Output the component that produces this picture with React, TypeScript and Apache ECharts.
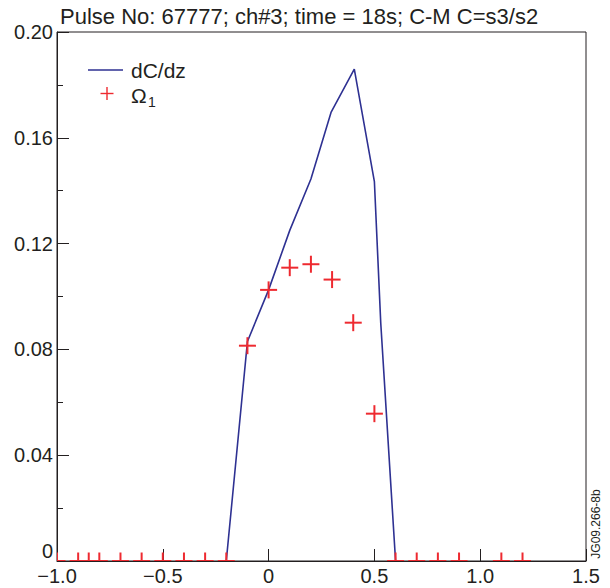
import React, { useEffect, useRef } from 'react';
import * as echarts from 'echarts';

// dC/dz curve
const lineX = [-0.2, -0.1, 0, 0.1, 0.2, 0.295, 0.405, 0.5, 0.53, 0.6];
const lineY = [0, 0.083, 0.1025, 0.125, 0.1444, 0.1696, 0.186, 0.1434, 0.09, 0];

// Omega_1 points
const omegaX = [-1.0, -0.9, -0.85, -0.8, -0.7, -0.6, -0.5, -0.4, -0.3, -0.2, -0.1, 0, 0.1, 0.2, 0.3, 0.4, 0.5, 0.6, 0.7, 0.8, 0.9, 1.1, 1.2];
const omegaY = [0, 0, 0, 0, 0, 0, 0, 0, 0, 0, 0.0814, 0.1025, 0.1109, 0.1122, 0.1064, 0.0901, 0.0557, 0, 0, 0, 0, 0, 0];

const xTicks = [-1.0, -0.5, 0, 0.5, 1.0, 1.5];
const yTicks = [0, 0.04, 0.08, 0.12, 0.16, 0.2];

const titleText = 'Pulse No: 67777; ch#3; time = 18s; C-M C=s3/s2';
const lineName = 'dC/dz';
const omegaName = 'Ω';
const omegaSub = '1';
const stampText = 'JG09.266-8b';

const BLUE = '#2E3192';
const RED = '#EE2A30';
const INK = '#231F20';
const FONT = '"Liberation Sans", Arial, Helvetica, sans-serif';

export default function App() {
  const ref = useRef<HTMLDivElement>(null);
  useEffect(() => {
    const chart = echarts.init(ref.current!, null, { renderer: 'svg' });
    const xStep = xTicks[1] - xTicks[0];
    const yStep = yTicks[1] - yTicks[0];
    chart.setOption({
      animation: false,
      textStyle: { fontFamily: FONT, color: INK },
      title: {
        text: titleText,
        left: 60,
        top: 5,
        padding: 0,
        textStyle: { fontFamily: FONT, fontSize: 22, fontWeight: 'normal', color: INK },
      },
      grid: {
        left: 57,
        right: 24,
        top: 32,
        bottom: 27,
        show: true,
        borderColor: INK,
        borderWidth: 1,
      },
      xAxis: {
        type: 'value',
        min: xTicks[0],
        max: xTicks[xTicks.length - 1],
        interval: xStep,
        splitLine: { show: false },
        axisLine: { onZero: false, lineStyle: { color: INK, width: 1 } },
        axisTick: { inside: true, length: 12, lineStyle: { color: INK } },
        axisLabel: {
          fontSize: 20,
          fontFamily: FONT,
          color: INK,
          margin: 5,
          formatter: (v: number) => (Math.abs(v) < 1e-9 ? '0' : v.toFixed(1).replace('-', '\u2212')),
        },
      },
      yAxis: {
        type: 'value',
        min: yTicks[0],
        max: yTicks[yTicks.length - 1],
        interval: yStep,
        splitLine: { show: false },
        axisLine: { onZero: false, lineStyle: { color: INK, width: 1 } },
        axisTick: { inside: true, length: 12, lineStyle: { color: INK } },
        minorTick: { show: true, splitNumber: 2, length: 6, lineStyle: { color: INK } },
        axisLabel: {
          fontSize: 20,
          fontFamily: FONT,
          color: INK,
          margin: 4,
          verticalAlignMinLabel: 'bottom',
          formatter: (v: number) => (Math.abs(v) < 1e-9 ? '0' : v.toFixed(2)),
        },
      },
      series: [
        {
          name: lineName,
          type: 'line',
          symbol: 'none',
          data: lineX.map((x, i) => [x, lineY[i]]),
          lineStyle: { color: BLUE, width: 1.6 },
          z: 2,
        },
        {
          name: omegaName + omegaSub,
          type: 'custom',
          clip: true,
          z: 3,
          data: omegaX.map((x, i) => [x, omegaY[i]]),
          renderItem: (params: any, api: any) => {
            const p = api.coord([api.value(0), api.value(1)]);
            const h = 8.5;
            return {
              type: 'group',
              children: [
                { type: 'line', shape: { x1: p[0] - h, y1: p[1], x2: p[0] + h, y2: p[1] }, style: { stroke: RED, lineWidth: 2 } },
                { type: 'line', shape: { x1: p[0], y1: p[1] - h, x2: p[0], y2: p[1] + h }, style: { stroke: RED, lineWidth: 2 } },
              ],
            };
          },
        },
      ],
      graphic: [
        { type: 'line', shape: { x1: 88, y1: 70, x2: 123, y2: 70 }, style: { stroke: BLUE, lineWidth: 1.4 } },
        { type: 'text', x: 131, y: 70, style: { text: lineName, fontSize: 21, fontFamily: FONT, fill: INK, verticalAlign: 'middle' } },
        { type: 'line', shape: { x1: 100.5, y1: 93.5, x2: 113.5, y2: 93.5 }, style: { stroke: RED, lineWidth: 1.4 } },
        { type: 'line', shape: { x1: 107, y1: 87, x2: 107, y2: 100 }, style: { stroke: RED, lineWidth: 1.4 } },
        { type: 'text', x: 131, y: 95, style: { text: omegaName, fontSize: 21, fontFamily: FONT, fill: INK, verticalAlign: 'middle' } },
        { type: 'text', x: 148, y: 102, style: { text: omegaSub, fontSize: 14, fontFamily: FONT, fill: INK, verticalAlign: 'middle' } },
        {
          type: 'text',
          x: 596,
          y: 524,
          rotation: Math.PI / 2,
          style: { text: stampText, fontSize: 12, fontFamily: FONT, fill: INK, align: 'center', verticalAlign: 'middle' },
        },
      ],
    });
    return () => chart.dispose();
  }, []);
  return <div ref={ref} style={{ position: 'absolute', left: 0, top: 0, width: 610, height: 588 }} />;
}
